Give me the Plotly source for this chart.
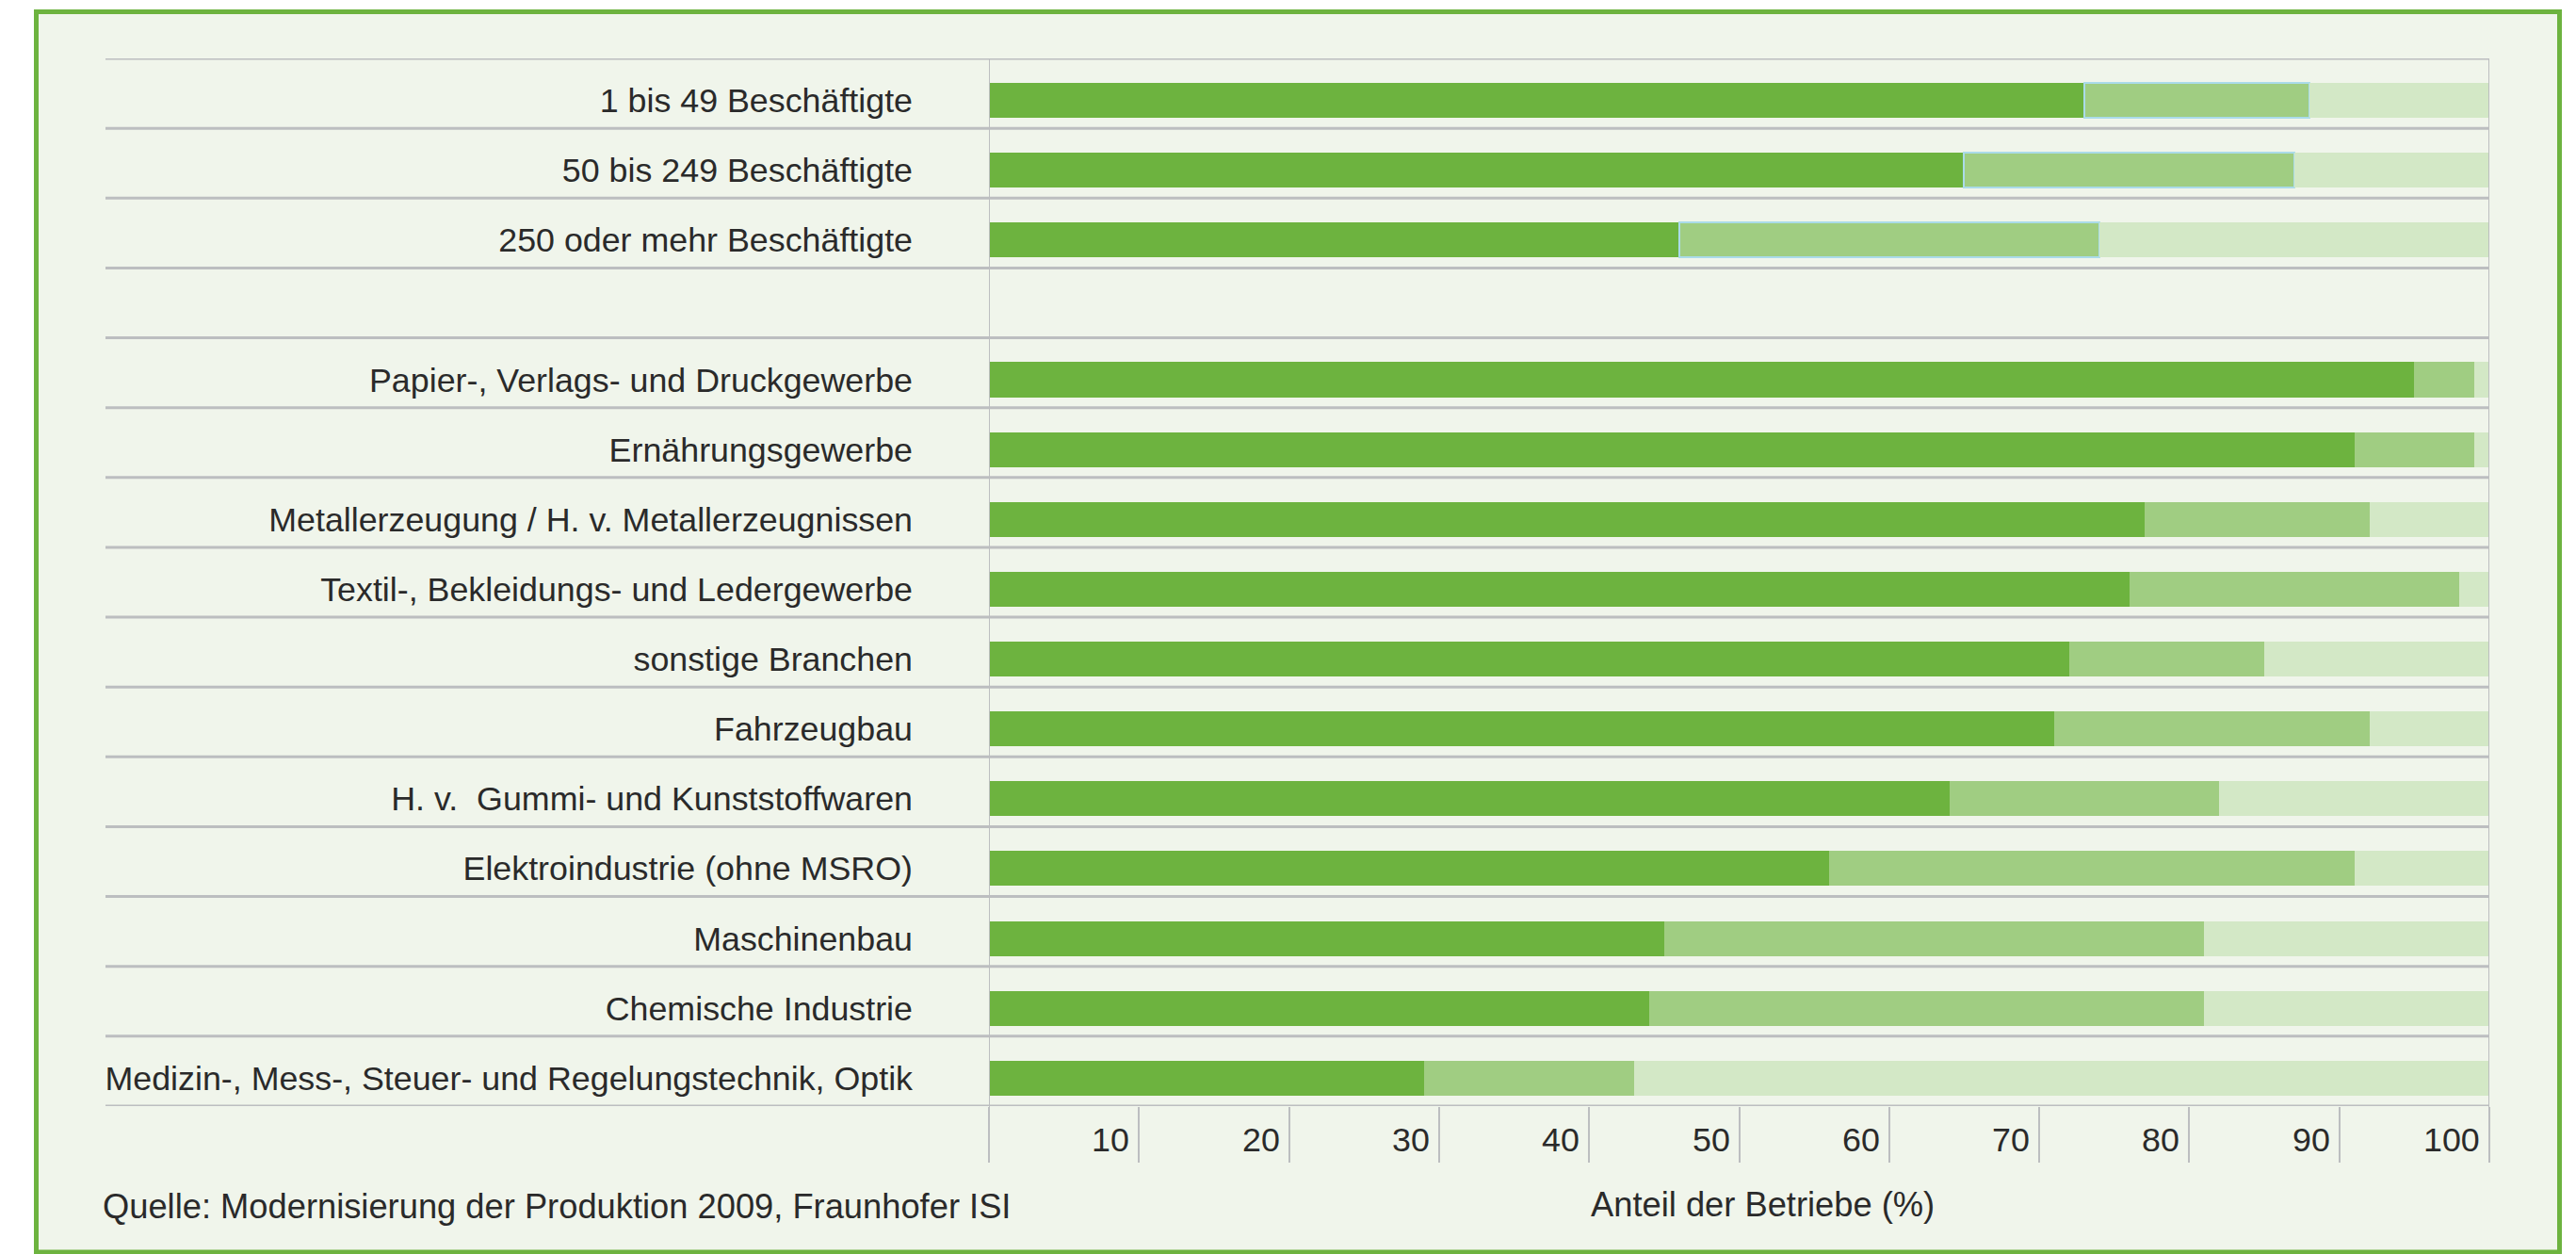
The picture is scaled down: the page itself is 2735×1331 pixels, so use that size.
import plotly.graph_objects as go

# ---- data ----
categories = [
    "1 bis 49 Beschäftigte",
    "50 bis 249 Beschäftigte",
    "250 oder mehr Beschäftigte",
    "",
    "Papier-, Verlags- und Druckgewerbe",
    "Ernährungsgewerbe",
    "Metallerzeugung / H. v. Metallerzeugnissen",
    "Textil-, Bekleidungs- und Ledergewerbe",
    "sonstige Branchen",
    "Fahrzeugbau",
    "H. v.  Gummi- und Kunststoffwaren",
    "Elektroindustrie (ohne MSRO)",
    "Maschinenbau",
    "Chemische Industrie",
    "Medizin-, Mess-, Steuer- und Regelungstechnik, Optik",
]
dark_values = [73, 65, 46, None, 95, 91, 77, 76, 72, 71, 64, 56, 45, 44, 29]
medium_values = [15, 22, 28, None, 4, 8, 15, 22, 13, 21, 18, 35, 36, 37, 14]
light_values = [12, 13, 26, None, 1, 1, 8, 2, 15, 8, 18, 9, 19, 19, 57]
x_tick_values = [10, 20, 30, 40, 50, 60, 70, 80, 90, 100]
x_title = "Anteil der Betriebe (%)"
source_text = "Quelle: Modernisierung der Produktion 2009, Fraunhofer ISI"

# ---- styling ----
W, H = 2735, 1331
L, R, T, B = 1050, 2643, 62, 1174
FONT = "Liberation Sans, Arial, sans-serif"
TXT = "#2a2a2a"
FS = 35.8
C_DARK = "#6db33f"
C_MED = "#a0cd82"
C_LIGHT = "#d3e8c6"
BG = "#f0f5eb"
GRID = "#bcbec0"
BORDER = "#6db33f"


def px_x(px):
    return (px - L) / (R - L)


def px_y(py):
    return (B - py) / (B - T)


n = len(categories)
ypos = list(range(n))
bar_off = 0.1
bar_w = 0.5

fig = go.Figure()
common = dict(orientation="h", y=ypos, width=bar_w, offset=-bar_w / 2 + bar_off,
              hoverinfo="skip", showlegend=False)
fig.add_trace(go.Bar(x=dark_values, marker=dict(color=C_DARK, line=dict(width=0)), **common))
med_line_w = [2 if i < 3 else 0 for i in range(n)]
fig.add_trace(go.Bar(x=medium_values,
                     marker=dict(color=C_MED, line=dict(width=med_line_w, color="#aadbe9")),
                     **common))
fig.add_trace(go.Bar(x=light_values, marker=dict(color=C_LIGHT, line=dict(width=0)), **common))

shapes = []
# outer framed background
shapes.append(dict(type="rect", xref="paper", yref="paper",
                   x0=px_x(38.5), x1=px_x(2717.5), y0=px_y(1329), y1=px_y(12.5),
                   line=dict(color=BORDER, width=5), fillcolor=BG, layer="below"))
# row separators
for k in range(n + 1):
    yv = k - 0.5
    shapes.append(dict(type="line", xref="paper", yref="y",
                       x0=px_x(112), x1=1, y0=yv, y1=yv,
                       line=dict(color=GRID, width=3), layer="above"))
# left / right vertical lines extended into tick area
for xv in (0, 100):
    shapes.append(dict(type="line", xref="x", yref="paper",
                       x0=xv, x1=xv, y0=px_y(1233), y1=1,
                       line=dict(color=GRID, width=2), layer="above"))

annotations = []
for v in x_tick_values:
    annotations.append(dict(x=v, y=px_y(1210), xref="x", yref="paper",
                            text=str(v), showarrow=False, xanchor="right", yanchor="middle",
                            xshift=-8, font=dict(family=FONT, size=FS, color=TXT)))
annotations.append(dict(x=px_x(1871), y=px_y(1278), xref="paper", yref="paper",
                        text=x_title, showarrow=False, xanchor="center", yanchor="middle",
                        font=dict(family=FONT, size=FS + 0.5, color=TXT)))
annotations.append(dict(x=px_x(107), y=px_y(1280), xref="paper", yref="paper",
                        text=source_text, showarrow=False, xanchor="left", yanchor="middle",
                        font=dict(family=FONT, size=FS + 0.5, color=TXT)))

fig.update_layout(
    width=W, height=H,
    margin=dict(l=L, r=W - R, t=T, b=H - B, autoexpand=False),
    paper_bgcolor="white",
    plot_bgcolor="rgba(0,0,0,0)",
    barmode="stack",
    bargap=0,
    shapes=shapes,
    annotations=annotations,
    xaxis=dict(range=[0, 100], tickvals=[0] + x_tick_values, showticklabels=False,
               ticks="outside", ticklen=59, tickwidth=2, tickcolor=GRID,
               showgrid=False, zeroline=False, showline=False, fixedrange=True),
    yaxis=dict(range=[n - 0.5, -0.5], tickvals=[i + bar_off for i in ypos], ticktext=categories,
               ticks="", showgrid=False, zeroline=False, showline=False,
               ticklabelstandoff=80,
               tickfont=dict(family=FONT, size=FS, color=TXT), fixedrange=True),
)

fig.write_html("out.html", config={"staticPlot": True},
               post_script="document.body.style.margin='0';document.body.style.overflow='hidden';")
